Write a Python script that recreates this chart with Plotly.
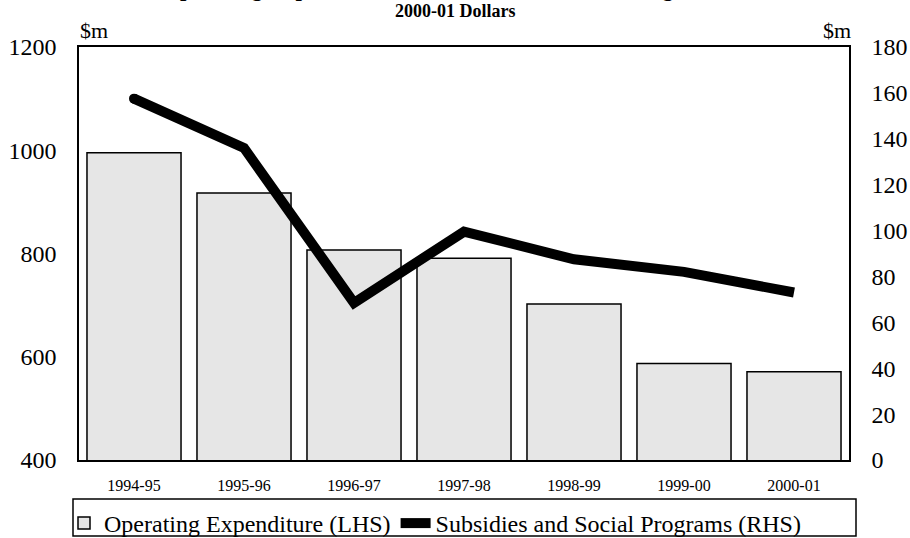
import plotly.graph_objects as go

categories = ["1994-95", "1995-96", "1996-97", "1997-98", "1998-99", "1999-00", "2000-01"]
operating_expenditure = [995, 917, 807, 791, 702, 587, 571]
subsidies_social = [157.5, 136, 68.5, 99.5, 87.5, 82, 73]
left_ticks = [400, 600, 800, 1000, 1200]
right_ticks = [0, 20, 40, 60, 80, 100, 120, 140, 160, 180]

SERIF = "Liberation Serif, Times New Roman, serif"

fig = go.Figure()
fig.add_trace(go.Bar(
    x=categories, y=operating_expenditure,
    name="Operating Expenditure (LHS)",
    marker=dict(color="#e6e6e6", line=dict(color="black", width=1.5)),
    yaxis="y",
))
fig.add_trace(go.Scatter(
    x=categories, y=subsidies_social,
    name="Subsidies and Social Programs (RHS)",
    mode="lines", line=dict(color="black", width=10),
    yaxis="y2",
))
fig.add_trace(go.Scatter(
    x=categories[:1], y=subsidies_social[:1], mode="markers",
    marker=dict(color="black", size=10), showlegend=False, yaxis="y2",
    hoverinfo="skip",
))

W, H = 910, 538
L, R, T, B = 79, 61, 47, 78
pw, ph = W - L - R, H - T - B


def px_x(p):
    return (p - L) / pw


def px_y(p):
    return (H - B - p) / ph


fig.update_layout(
    width=W, height=H,
    margin=dict(l=L, r=R, t=T, b=B, autoexpand=False),
    paper_bgcolor="white", plot_bgcolor="white",
    font=dict(family=SERIF, color="black"),
    bargap=0.145,
    showlegend=True,
    legend=dict(
        orientation="h", x=px_x(64), y=px_y(501), xanchor="left", yanchor="top",
        font=dict(family=SERIF, size=24, color="black"),
        bgcolor="rgba(0,0,0,0)", borderwidth=0, itemwidth=30,
    ),
    xaxis=dict(
        type="category", showline=True, linecolor="black", linewidth=1.5, mirror=True,
        showgrid=False, ticks="", tickfont=dict(family=SERIF, size=16),
        ticklabelstandoff=10, zeroline=False,
    ),
    yaxis=dict(
        range=[400, 1200], tickvals=left_ticks, showline=True, linecolor="black",
        linewidth=1.5, showgrid=False, ticks="", zeroline=False,
        tickfont=dict(family=SERIF, size=24), ticklabelstandoff=16,
    ),
    yaxis2=dict(
        range=[0, 180], tickvals=right_ticks, overlaying="y", side="right",
        showline=True, linecolor="black", linewidth=1.5, showgrid=False, ticks="",
        zeroline=False, tickfont=dict(family=SERIF, size=24), ticklabelstandoff=16,
    ),
    shapes=[dict(
        type="rect", xref="paper", yref="paper",
        x0=px_x(73), x1=px_x(856), y0=px_y(536), y1=px_y(499),
        line=dict(color="black", width=1.5), fillcolor="rgba(0,0,0,0)",
    )],
    annotations=[
        dict(text="<b>Operating Expenditure and Subsidies &amp; Social Programs</b>",
             xref="paper", yref="paper", x=px_x(160), y=px_y(3),
             xanchor="left", yanchor="bottom", showarrow=False,
             font=dict(family=SERIF, size=23)),
        dict(text="<b>2000-01 Dollars</b>", xref="paper", yref="paper",
             x=px_x(455), y=px_y(11), xanchor="center", yanchor="middle",
             showarrow=False, font=dict(family=SERIF, size=18)),
        dict(text="$m", xref="paper", yref="paper", x=px_x(78), y=px_y(30),
             xanchor="left", yanchor="middle", showarrow=False,
             font=dict(family=SERIF, size=22)),
        dict(text="$m", xref="paper", yref="paper", x=px_x(853), y=px_y(30),
             xanchor="right", yanchor="middle", showarrow=False,
             font=dict(family=SERIF, size=22)),
    ],
)

fig.write_html(
    "out.html",
    config={"displayModeBar": False},
    post_script="document.body.style.margin='0';document.body.style.overflow='hidden';",
)
